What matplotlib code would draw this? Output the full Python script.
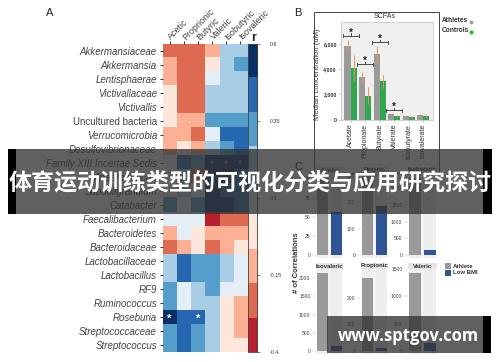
import matplotlib
matplotlib.use("Agg")
import matplotlib.pyplot as plt
from matplotlib.colors import ListedColormap
from matplotlib.patches import Rectangle
import numpy as np

W, H = 500, 362

# ── A: heatmap data ─────────────────────────────────────────────────────────
taxa = ["Akkermansiaceae", "Akkermansia", "Lentisphaerae", "Victivallaceae", "Victivallis",
        "Uncultured bacteria", "Verrucomicrobia", "Desulfovibrionaceae",
        "Family XIII Incertae Sedis", "Anaerotruncus", "Subdoligranulum", "Catabacter",
        "Faecalibacterium", "Bacteroidetes", "Bacteroidaceae", "Lactobacillaceae",
        "Lactobacillus", "RF9", "Ruminococcus", "Roseburia", "Streptococcaceae", "Streptococcus"]
upright = ["Uncultured bacteria"]
acids = ["Acetic", "Proprionic", "Butyric", "Valeric", "Isobutyric", "Isovaleric"]
heat_colors = ["#0a2f66", "#2767b0", "#559ecb", "#a8cde4", "#e3eef6",
               "#fde7da", "#fbb093", "#df6a52", "#b81f2e"]
heat_levels = [
    [7, 7, 7, 6, 3, 3],
    [6, 7, 7, 5, 3, 2],
    [6, 7, 7, 4, 3, 3],
    [5, 7, 7, 3, 3, 3],
    [5, 7, 7, 3, 3, 3],
    [5, 6, 6, 2, 2, 2],
    [6, 6, 7, 4, 1, 1],
    [6, 5, 6, 3, 2, 1],
    [4, 1, 2, 0, 0, 0],
    [5, 3, 7, 0, 0, 1],
    [5, 3, 4, 0, 1, 1],
    [2, 4, 2, 0, 0, 1],
    [4, 4, 4, 8, 7, 7],
    [6, 4, 5, 6, 6, 6],
    [7, 6, 5, 7, 6, 5],
    [3, 1, 2, 2, 3, 4],
    [3, 1, 2, 2, 3, 4],
    [2, 4, 3, 2, 4, 4],
    [2, 4, 3, 3, 5, 6],
    [0, 1, 1, 3, 5, 6],
    [2, 1, 2, 3, 5, 6],
    [2, 1, 2, 3, 5, 5],
]
star_cells = [(8, 3, "#8a8f94"), (8, 4, "#8a8f94"), (8, 5, "#8a8f94"), (19, 0, "white"), (19, 2, "white")]
r_ticks = [0.6, 0.35, 0.1, -0.15, -0.4]

# ── B: SCFA data ────────────────────────────────────────────────────────────
scfas = ["Acetate", "Propionate", "Butyrate", "Valerate", "Isobutyrate", "Isovalerate"]
athletes = [5850, 3350, 5200, 400, 250, 350]
controls = [4100, 1900, 3050, 300, 180, 280]
athletes_err = [450, 450, 620, 60, 60, 90]
controls_err = [1000, 650, 520, 90, 110, 170]
brackets = [(0, 6650), (1, 4400), (2, 6150), (3, 750)]

# ── C: correlation counts ───────────────────────────────────────────────────
panels = ["Acetic", "Butyric", "Isobutyric", "Isovaleric", "Propionic", "Valeric"]
athlete_counts = [100, 300, 2300, 2130, 275, 1430]
low_bmi_counts = [56, 187, 150, 150, 12, 145]
panel_ticks = [[0, 25, 50, 75, 100], [0, 100, 200, 300], [0, 500, 1000, 1500, 2000],
               [0, 500, 1000, 1500, 2000], [0, 100, 200], [0, 500, 1000, 1500]]
panel_ymax = [107, 310, 2450, 2250, 307, 1500]

banner_title = "体育运动训练类型的可视化分类与应用研究探讨"
watermark = "www.sptgov.com"

plt.rcParams["font.family"] = ["Liberation Sans", "DejaVu Sans"]
fig = plt.figure(figsize=(W / 100, H / 100), dpi=100, facecolor="white")


def px_axes(x0, y0, x1, y1, **kw):
    # axes placed by reference pixel box (y from the top)
    return fig.add_axes([x0 / W, 1 - y1 / H, (x1 - x0) / W, (y1 - y0) / H], **kw)


# full-figure layer for frames, letters and legends
bg = px_axes(0, 0, W, H, zorder=0)
bg.set_xlim(0, W)
bg.set_ylim(H, 0)
bg.axis("off")
for letter, lx, ly in [("A", 50, 13), ("B", 298, 13), ("C", 298, 167)]:
    bg.text(lx, ly, letter, fontsize=8, color="#222222", ha="center", va="center")

# ── A ───────────────────────────────────────────────────────────────────────
cmap = ListedColormap(heat_colors)
ax = px_axes(162.5, 44, 247, 352)
ax.imshow(np.array(heat_levels), cmap=cmap, vmin=-0.5, vmax=8.5, aspect="auto", interpolation="nearest")
ax.xaxis.tick_top()
ax.set_xticks(range(len(acids)))
ax.set_xticklabels(acids, rotation=45, ha="left", va="center", rotation_mode="anchor",
                   fontsize=6.5, color="#444444")
ax.set_yticks(range(len(taxa)))
ax.set_yticklabels(taxa, fontsize=7, color="#444444")
for lab in ax.get_yticklabels():
    if lab.get_text() not in upright:
        lab.set_style("italic")
ax.tick_params(axis="both", length=2, width=0.7, pad=2, color="#333333")
for s in ax.spines.values():
    s.set_visible(False)
for row, col, c in star_cells:
    ax.text(col, row + 0.1, "*", color=c, fontsize=8, fontweight="bold", ha="center", va="center")

cax = px_axes(247.5, 44, 257, 352)
cax.imshow(np.arange(9).reshape(-1, 1), cmap=cmap, vmin=-0.5, vmax=8.5, aspect="auto",
           extent=[0, 1, -0.4, 0.6], origin="upper", interpolation="nearest")
cax.set_xticks([])
cax.yaxis.tick_right()
cax.set_yticks(r_ticks)
cax.set_yticklabels([str(v) for v in r_ticks], fontsize=3.8, color="#333333")
cax.tick_params(axis="y", length=2, width=0.5, pad=7, color="#555555")
for s in cax.spines.values():
    s.set_linewidth(0.6)
    s.set_color("#444444")
bg.text(253.5, 38, "r", fontsize=9, fontweight="bold", ha="center", va="center", color="#222222")

# ── B ───────────────────────────────────────────────────────────────────────
bg.add_patch(Rectangle((313.5, 11.5), 125, 161, fill=False, ec="#444444", lw=0.7))
bg.text(385, 16.5, "SCFAs", fontsize=5, color="#333333", ha="center", va="center")
axb = px_axes(341, 22, 433, 119.5, facecolor="#efefef")
xb = np.arange(len(scfas))
bw = 0.42
axb.bar(xb - bw / 2, athletes, bw, color="#9a9a9a")
axb.bar(xb + bw / 2, controls, bw, color="#2fa84f")
axb.errorbar(xb - bw / 2, athletes, yerr=athletes_err, fmt="none", ecolor="#e8935a", elinewidth=0.7)
axb.errorbar(xb + bw / 2, controls, yerr=controls_err, fmt="none", ecolor="#e8935a", elinewidth=0.7)
for i, top in brackets:
    axb.plot([i - 0.55, i + 0.55], [top, top], color="#333333", lw=0.6)
    axb.plot([i - 0.55, i - 0.55], [top - 120, top + 120], color="#333333", lw=0.6)
    axb.plot([i + 0.55, i + 0.55], [top - 120, top + 120], color="#333333", lw=0.6)
    axb.plot([i, i], [top, top + 200], color="#333333", lw=0.6)
    axb.text(i, top + 250, "*", fontsize=7, fontweight="bold", ha="center", va="center", color="#222222")
axb.set_xlim(-0.66, 5.67)
axb.set_ylim(0, 7760)
axb.set_xticks(xb)
axb.set_xticklabels(scfas, rotation=90, fontsize=5, color="#333333")
axb.set_yticks([0, 2000, 4000, 6000])
axb.set_yticklabels(["0", "2,000", "4,000", "6,000"], fontsize=3.8, fontweight="bold", color="#333333")
axb.set_ylabel("Median concentration (uM)", fontsize=5.5, color="#333333")
axb.yaxis.set_label_coords(-0.217, 0.46)
axb.tick_params(axis="both", length=1.5, width=0.4, pad=1.5, color="#888888")
for s in axb.spines.values():
    s.set_color("#cfcfcf")
    s.set_linewidth(0.7)
bg.text(442, 21, "Athletes", fontsize=4.8, fontweight="bold", color="#333333", va="center")
bg.text(442, 31, "Controls", fontsize=4.8, fontweight="bold", color="#333333", va="center")
bg.scatter([470.5], [21.5], s=7, color="#9a9a9a", lw=0)
bg.scatter([471], [31.5], s=9, color="#1fc43c", lw=0)

# ── C ───────────────────────────────────────────────────────────────────────
panel_x = [(316, 343), (361, 388), (408, 437)]
panel_y = [(167, 173, 258, 255), (263, 269, 354, 351)]
for i, name in enumerate(panels):
    x0, x1 = panel_x[i % 3]
    strip0, top, bottom, base = panel_y[i // 3]
    bg.add_patch(Rectangle((x0, strip0), x1 - x0, top - strip0, color="#e4e4e4", lw=0))
    bg.text((x0 + x1) / 2, (strip0 + top) / 2, name, fontsize=4.3, fontweight="bold",
            color="#333333", ha="center", va="center")
    axc = px_axes(x0, top, x1, bottom)
    # lower limit leaves the few pixels of stripe that run on below the zero line
    ylow = -panel_ymax[i] * (bottom - base) / (base - top)
    axc.bar([0, 1], [panel_ymax[i] - ylow] * 2, 0.92, bottom=ylow, color="#eeeeee")
    axc.bar([0, 1], [athlete_counts[i], low_bmi_counts[i]], 0.84, color=["#999999", "#2f5597"])
    axc.set_xlim(-0.5, 1.5)
    axc.set_ylim(ylow, panel_ymax[i])
    axc.set_xticks([])
    axc.set_yticks(panel_ticks[i])
    axc.set_yticklabels([str(v) for v in panel_ticks[i]], fontsize=3.6, color="#444444")
    axc.tick_params(axis="y", length=3, width=0.3, pad=1, color="#bbbbbb")
    for s in axc.spines.values():
        s.set_visible(False)
bg.text(297, 263, "# of Correlations", fontsize=5.5, fontweight="bold", rotation=90,
        color="#333333", ha="center", va="center")
bg.add_patch(Rectangle((445, 263), 5.5, 6, color="#999999", lw=0))
bg.add_patch(Rectangle((445, 270), 5.5, 5.5, color="#2f5597", lw=0))
bg.text(453, 266, "Athlete", fontsize=4.3, fontweight="bold", color="#333333", va="center")
bg.text(453, 272.5, "Low BMI", fontsize=4.3, fontweight="bold", color="#333333", va="center")

# ── overlay banners ─────────────────────────────────────────────────────────
top_layer = px_axes(0, 0, W, H, zorder=10)
top_layer.set_xlim(0, W)
top_layer.set_ylim(H, 0)
top_layer.axis("off")
top_layer.add_patch(Rectangle((8, 149), 475, 65, color="#333333", alpha=0.78, lw=0))
top_layer.add_patch(Rectangle((8, 149), 8, 65, color="black", lw=0))
top_layer.add_patch(Rectangle((483, 149), 9, 65, color="black", lw=0))
top_layer.add_patch(Rectangle((327, 316), 156, 37, color="#333333", alpha=0.78, lw=0))
top_layer.add_patch(Rectangle((483, 316), 8, 37, color="black", lw=0))
top_layer.text(250, 184, banner_title, fontsize=16.6, fontweight="bold", color="white",
               ha="center", va="center", family=["Noto Sans CJK SC", "DejaVu Sans"])
top_layer.text(408, 336, watermark, fontsize=12, fontweight="bold", color="white",
               ha="center", va="center", family="Open Sans")

fig.savefig("out.png", dpi=100)
